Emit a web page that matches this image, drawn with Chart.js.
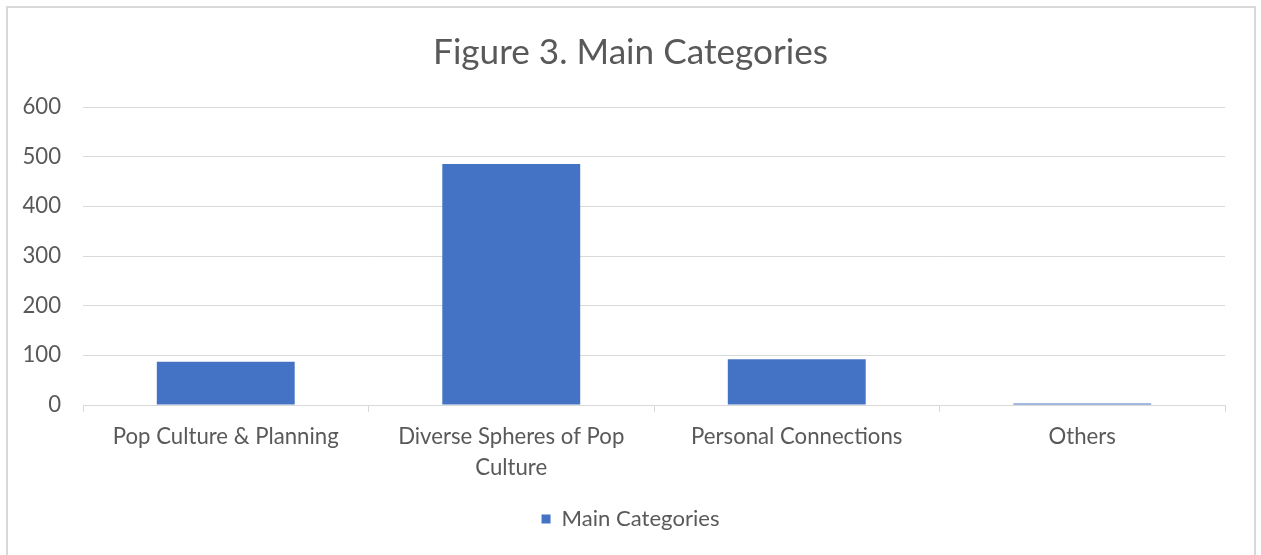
<!DOCTYPE html>
<html>
<head>
<meta charset="utf-8">
<script src="https://cdn.jsdelivr.net/npm/chart.js@4.4.1/dist/chart.umd.min.js"></script>
<style>
  html, body { margin: 0; padding: 0; background: #ffffff; }
  #wrap { width: 1261px; height: 555px; position: relative; }
  canvas { display: block; }
</style>
</head>
<body>
<div id="wrap"><canvas id="c" width="1261" height="555"></canvas></div>
<script>
// ---- data ----
const titleText = 'Figure 3. Main Categories';
const seriesName = 'Main Categories';
const categories = ['Pop Culture & Planning', 'Diverse Spheres of Pop Culture', 'Personal Connections', 'Others'];
const values = [87, 485, 92, 3];
const yMin = 0;
const yMax = 600;
const yStep = 100;

// ---- styling helpers ----
const FAMILY = 'Lato, "Open Sans", sans-serif';
const TEXT = '#595959';
const GRID = '#d9d9d9';
const mctx = document.createElement('canvas').getContext('2d');
function fitSize(text, targetWidth) {
  mctx.font = '100px Lato';
  return 100 * targetWidth / mctx.measureText(text).width;
}
const titleSize = fitSize(titleText, 395);
const tickSize = fitSize('Pop Culture & Planning', 226);
const legendSize = fitSize(seriesName, 158);

function wrap(s, max) {
  const words = s.split(' ');
  const lines = [];
  let cur = '';
  for (const w of words) {
    if (cur && (cur + ' ' + w).length > max) { lines.push(cur); cur = w; }
    else cur = cur ? cur + ' ' + w : w;
  }
  if (cur) lines.push(cur);
  return lines;
}

// layout targets
const plotTop = 107, plotBottom = 405, plotLeft = 83, rightGap = 36;
const titleCenter = 52.5;
const titlePadTop = titleCenter - 0.6 * titleSize;
const titlePadBottom = plotTop - titlePadTop - 1.2 * titleSize;
const legendPad = 10;
const legendCenter = 519;
const layoutBottom = 555 - legendCenter - legendSize / 2 - legendPad;
const legendTop = 555 - layoutBottom - (legendSize + 2 * legendPad);
const xAxisHeight = legendTop - plotBottom;
const tickLen = 7;
const xLineH = 31;
const xTickPad = 437 - plotBottom - tickLen - xLineH / 2;

const framePlugin = {
  id: 'frame',
  beforeDraw(chart) {
    const c = chart.ctx;
    c.save();
    c.fillStyle = '#ffffff';
    c.fillRect(0, 0, chart.width, chart.height);
    c.strokeStyle = GRID;
    c.lineWidth = 2;
    c.strokeRect(7, 7, 1248, 700);
    c.restore();
  }
};

Chart.defaults.font.family = FAMILY;
Chart.defaults.color = TEXT;

new Chart(document.getElementById('c'), {
  type: 'bar',
  data: {
    labels: categories.map(c => wrap(c, 22)),
    datasets: [{
      label: seriesName,
      data: values,
      backgroundColor: '#4472C4',
      borderWidth: 0,
      categoryPercentage: 1,
      barPercentage: 0.483,
      yAxisID: 'y'
    }]
  },
  options: {
    responsive: false,
    animation: false,
    devicePixelRatio: 1,
    layout: { padding: { left: 0, right: 0, top: 0, bottom: layoutBottom } },
    plugins: {
      title: {
        display: true,
        text: titleText,
        color: TEXT,
        font: { family: FAMILY, size: titleSize, weight: 'normal', lineHeight: 1.2 },
        padding: { top: titlePadTop, bottom: titlePadBottom }
      },
      legend: {
        display: true,
        position: 'bottom',
        labels: {
          boxWidth: 9,
          boxHeight: 9,
          padding: legendPad,
          color: TEXT,
          font: { family: FAMILY, size: legendSize }
        }
      },
      tooltip: { enabled: false }
    },
    scales: {
      x: {
        afterFit(scale) { scale.height = xAxisHeight; },
        grid: {
          drawOnChartArea: false,
          drawTicks: true,
          tickLength: tickLen,
          color: GRID,
          lineWidth: 1
        },
        border: { display: true, color: GRID, width: 1 },
        ticks: {
          color: TEXT,
          padding: xTickPad,
          maxRotation: 0,
          autoSkip: false,
          font: { family: FAMILY, size: tickSize, lineHeight: xLineH / tickSize }
        }
      },
      y: {
        position: 'left',
        min: yMin,
        max: yMax,
        afterFit(scale) { scale.width = plotLeft; },
        grid: { color: GRID, lineWidth: 1, drawTicks: false },
        border: { display: false },
        ticks: {
          stepSize: yStep,
          color: TEXT,
          padding: 22,
          font: { family: FAMILY, size: tickSize }
        }
      },
      yRightSpacer: {
        type: 'linear',
        position: 'right',
        display: true,
        min: yMin,
        max: yMax,
        afterFit(scale) { scale.width = rightGap; },
        grid: { display: false, drawOnChartArea: false, drawTicks: false },
        border: { display: false },
        ticks: { display: false }
      }
    }
  },
  plugins: [framePlugin]
});
</script>
</body>
</html>
